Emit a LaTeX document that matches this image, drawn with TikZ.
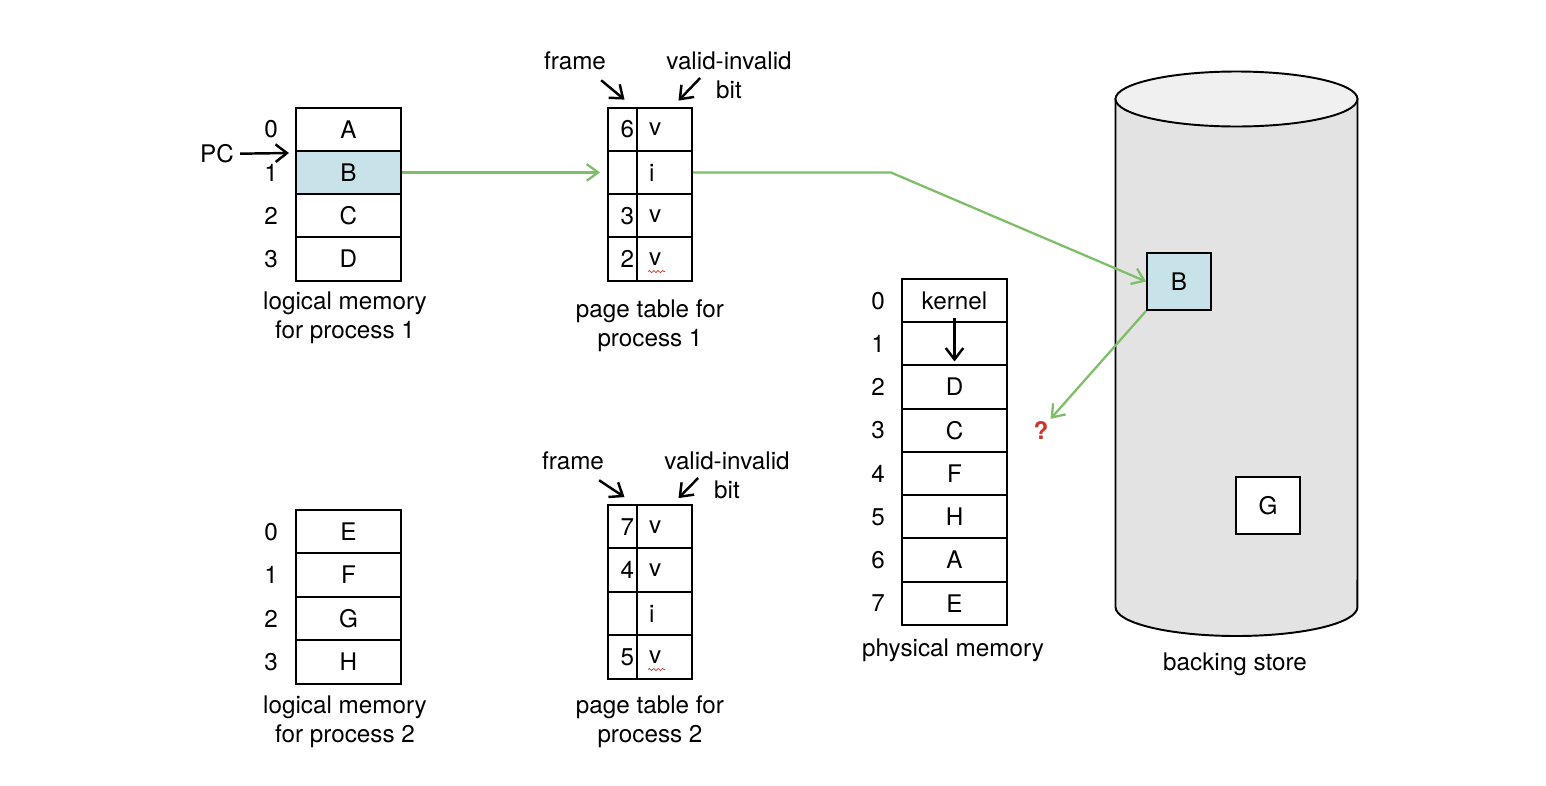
\documentclass[tikz,border=0pt]{standalone}
\usepackage{fontspec}
\setmainfont{TeX Gyre Heros}
\usepackage{xcolor}
\usepackage{tikz}
\usetikzlibrary{calc, positioning, arrows.meta, decorations.pathmorphing}

\definecolor{pageblue}{RGB}{200,226,234}
\definecolor{swapgreen}{RGB}{125,190,105}
\definecolor{diskside}{RGB}{227,227,227}
\definecolor{disktop}{RGB}{240,240,240}
\definecolor{missred}{RGB}{200,55,45}

\begin{document}
\begin{tikzpicture}[x=0.02cm, y=-0.02cm, >={Straight Barb[length=6.5pt, width=10pt]},
    font=\fontsize{13.8}{16.5}\selectfont,
    cell/.style={draw, line width=1.1pt, minimum width=2.1cm, minimum height=0.866cm, inner sep=0pt},
    fcell/.style={draw, line width=1.1pt, text width=0.46cm, inner xsep=0.06cm, inner ysep=0pt,
        minimum height=0.866cm, align=right},
    bcell/.style={draw, line width=1.1pt, text width=0.62cm, inner xsep=0.24cm, inner ysep=0pt,
        minimum height=0.866cm, align=left},
    diskbox/.style={draw, line width=1.1pt, minimum width=1.28cm, minimum height=1.14cm, inner sep=0pt},
    barrow/.style={->, line width=1.4pt},
    garrow/.style={->, swapgreen, line width=1.3pt, >={Straight Barb[length=6.5pt, width=9.5pt]}},
    squiggle/.style={missred, line width=0.4pt, decorate, decoration={snake, amplitude=0.6pt, segment length=2.5pt}}]
            \useasboundingbox (0,0) rectangle (1546,785);

            % Backing store (cylinder)
            \draw[fill=diskside, line width=1.1pt] (1115.5,99) -- (1115.5,607)
                arc[start angle=180, end angle=360, x radius=2.42cm, y radius=0.58cm] -- (1357.5,99) -- cycle;
            \draw[fill=disktop, line width=1.1pt] (1236.5,99) ellipse [x radius=2.42cm, y radius=0.55cm];
            \node[diskbox, fill=pageblue] (bsB) at (1179,281.5) {B};
            \node[diskbox, fill=white] (bsG) at (1268,505.5) {G};
            \node (bsLabel) at (1235,664) {backing store};

            % Logical memory for process 1
            \foreach \c/\f [count=\i from 0] in {A/white, B/pageblue, C/white, D/white} {
                \node[cell, fill=\f] (lmA-\i) at (348.5, {129.2+43.25*\i}) {\c};
                \node (lmAn-\i) at (271, {129.2+43.25*\i}) {\i};
            }
            \node[align=center] (lmALabel) at (345,318) {logical memory\\for process 1};
            \node (pc) at (217,154) {PC};
            \coordinate (pcTip) at (289,153);
            \draw[barrow] (pc) -- (pcTip);

            % Page table for process 1
            \foreach \f/\b [count=\i from 0] in {6/v, /i, 3/v, 2/v} {
                \node[fcell] (ptAf-\i) at (622.5, {129.2+43.25*\i}) {\f};
                \node[bcell] (ptAb-\i) at (664.5, {129.2+43.25*\i}) {\b};
            }
            \draw[squiggle] ($(ptAb-3.south west)+(12,-10)$) -- ++(17,0);
            \node (frameA) at (575,61) {frame};
            \node[align=center] (validA) at (729,75) {valid-invalid\\bit};
            \draw[barrow] ($(frameA.south east)+(-11,4)$) -- ($(ptAf-0.north)+(2,-7)$);
            \draw[barrow] ($(validA.west)+(40,3)$) -- ($(ptAb-0.north)+(14,-6)$);
            \node[align=center] (ptALabel) at (650,326) {page table for\\process 1};

            % Logical memory for process 2
            \foreach \c [count=\i from 0] in {E, F, G, H} {
                \node[cell] (lmB-\i) at (348.5, {531.7+43.4*\i}) {\c};
                \node (lmBn-\i) at (271, {531.7+43.4*\i}) {\i};
            }
            \node[align=center] (lmBLabel) at (345,722) {logical memory\\for process 2};

            % Page table for process 2
            \foreach \f/\b [count=\i from 0] in {7/v, 4/v, /i, 5/v} {
                \node[fcell] (ptBf-\i) at (622.5, {526.7+43.4*\i}) {\f};
                \node[bcell] (ptBb-\i) at (664.5, {526.7+43.4*\i}) {\b};
            }
            \draw[squiggle] ($(ptBb-3.south west)+(12,-10)$) -- ++(17,0);
            \node (frameB) at (573,461) {frame};
            \node[align=center] (validB) at (727,475) {valid-invalid\\bit};
            \draw[barrow] ($(frameB.south east)+(-11,4)$) -- ($(ptBf-0.north)+(2,-7)$);
            \draw[barrow] ($(validB.west)+(40,3)$) -- ($(ptBb-0.north)+(14,-6)$);
            \node[align=center] (ptBLabel) at (650,722) {page table for\\process 2};

            % Physical memory
            \foreach \c [count=\i from 0] in {kernel, , D, C, F, H, A, E} {
                \node[cell] (pm-\i) at (954.5, {300.6+43.25*\i}) {\c};
                \node (pmn-\i) at (878, {300.6+43.25*\i}) {\i};
            }
            \draw[barrow] ($(pm-0.south)+(0,-5)$) -- ($(pm-1.south)+(0,-5)$);
            \node (pmLabel) at (953,650) {physical memory};

            % Page fault path
            \node[text=missred, inner sep=1pt, font=\fontsize{13.8}{16.5}\selectfont\bfseries] (miss) at (1041,430) {?};
            \coordinate (bendA) at (891,172.5);
            \draw[garrow, shorten >=4pt] (lmA-1.east) -- (ptAf-1.west);
            \draw[garrow] (ptAb-1.east) -- (bendA) -- (bsB.west);
            \draw[garrow] (bsB.south west) -- (miss.north east);
        \end{tikzpicture}
\end{document}
